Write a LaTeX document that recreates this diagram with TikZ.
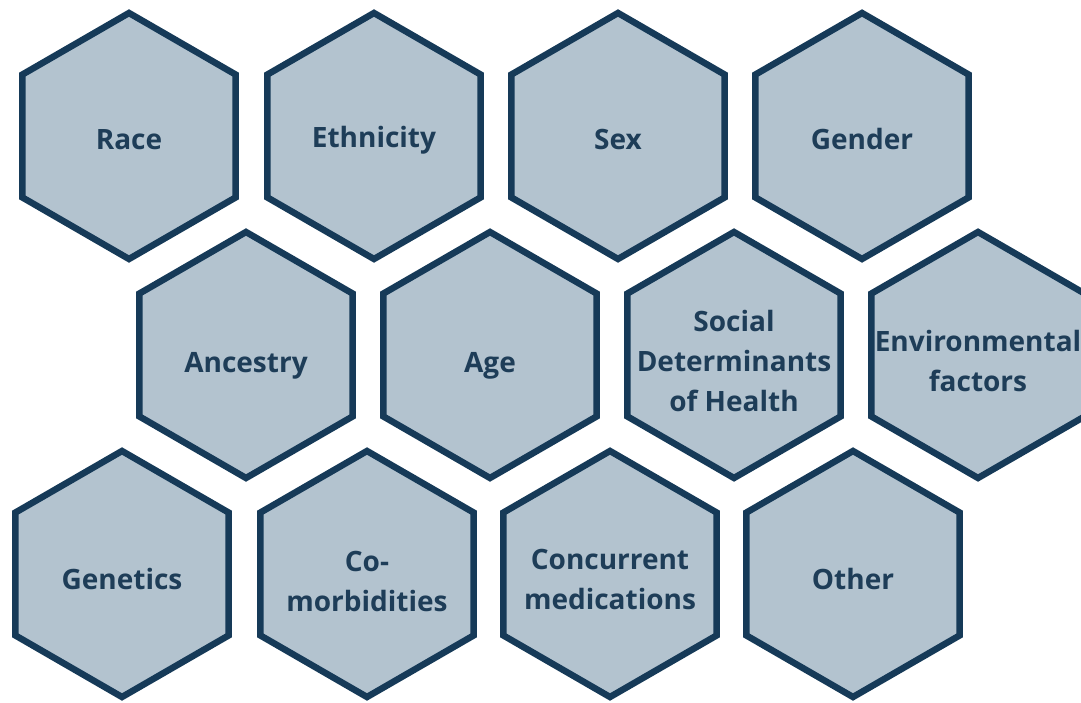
\documentclass[tikz,border=0pt]{standalone}
\usepackage{fontspec}
\setmainfont{Open Sans}
\usetikzlibrary{shapes.geometric}
\definecolor{hexfill}{HTML}{B3C3CF}
\definecolor{hexline}{HTML}{163A58}
\definecolor{hextext}{HTML}{1E3D58}
\tikzset{
  hexa/.style={regular polygon, regular polygon sides=6, shape border rotate=30,
    minimum size=246pt, inner sep=0pt, draw=hexline, fill=hexfill, line width=6.5pt},
  lbl/.style={text=hextext, align=center, font=\bfseries\fontsize{28}{40}\selectfont}
}
\begin{document}
\begin{tikzpicture}[x=1pt,y=-1pt]
\useasboundingbox (0,0) rectangle (1081,703);
\clip (0,0) rectangle (1081,703);
% top row
\foreach \x/\dy/\name/\txt in {129/4/race/Race, 374/4/eth/Ethnicity, 618/4/sex/Sex, 862/3/gen/Gender}
    \node[hexa, label={[lbl,yshift=-\dy pt]center:\txt}] (\name) at (\x,136) {};
% middle row
\foreach \x/\dy/\name/\txt in {246/11/anc/Ancestry, 490/11/age/Age,
    734/6/sdoh/{Social\\Determinants\\of Health}, 978/6/env/{Environmental\\factors}}
    \node[hexa, label={[lbl,yshift=-\dy pt]center:\txt}] (\name) at (\x,355) {};
% bottom row
\foreach \x/\dy/\name/\txt in {122/5/genet/Genetics, 367/7/comorb/{Co-\\morbidities},
    610/5/conc/{Concurrent\\medications}, 853/5/other/Other}
    \node[hexa, label={[lbl,yshift=-\dy pt]center:\txt}] (\name) at (\x,574) {};
\end{tikzpicture}
\end{document}
